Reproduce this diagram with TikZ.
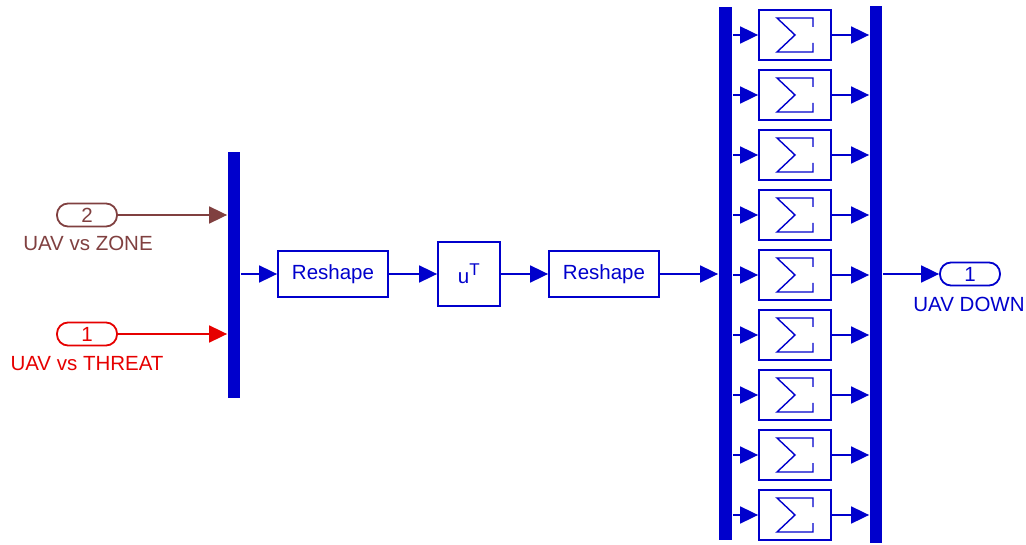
\documentclass[tikz,border=0pt]{standalone}
\usepackage{fontspec}
\setmainfont{Liberation Sans}
\usetikzlibrary{arrows.meta}
\definecolor{simblue}{RGB}{0,0,204}
\definecolor{zonebrown}{RGB}{128,64,64}
\definecolor{threatred}{RGB}{230,0,0}
\begin{document}
\begin{tikzpicture}[x=1pt,y=-1pt,
  font=\fontsize{20.5}{24}\selectfont,
  line width=1.8pt,
  sig/.style={-{Triangle[length=18pt,width=17pt]}},
  blk/.style={draw=simblue,text=simblue,minimum width=#1,inner sep=0pt},
  bar/.style={fill=simblue,draw=none,minimum width=12pt,inner sep=0pt},
  port/.style={draw,rounded corners=11pt,minimum width=60pt,minimum height=23pt,inner sep=0pt},
  lbl/.style={inner sep=0pt}]
\useasboundingbox (0,0) rectangle (1026,545);

% inports
\node[port,draw=zonebrown,text=zonebrown] (p2) at (87,215) {2};
\node[lbl,text=zonebrown,anchor=north] (l2) at (88,235) {UAV vs ZONE};
\node[port,draw=threatred,text=threatred] (p1) at (87,334) {1};
\node[lbl,text=threatred,anchor=north] (l1) at (87,355) {UAV vs THREAT};

% mux
\node[bar,minimum height=246pt] (mux) at (234,275) {};

% chain of blocks
\node[blk=110pt,minimum height=46pt] (rs1) at (333,274) {Reshape};
\node[blk=62pt,minimum height=64pt] (tr) at (469,274) {u\textsuperscript{\fontsize{17}{20}\selectfont T}};
\node[blk=110pt,minimum height=46pt] (rs2) at (604,274) {Reshape};

% demux and concatenation bars
\node[bar,minimum width=13pt,minimum height=533pt] (dmx) at (725.5,273.5) {};
\node[bar,minimum height=537pt] (cat) at (876,274.5) {};

% outport
\node[port,draw=simblue,text=simblue] (o1) at (970,274) {1};
\node[lbl,text=simblue,anchor=north] (lo) at (969,296) {UAV DOWN};

% connections
\draw[sig,zonebrown] (p2.east) -- (p2.east -| mux.west);
\draw[sig,threatred] (p1.east) -- (p1.east -| mux.west);
\draw[sig,simblue] (rs1.west -| mux.east) -- (rs1.west);
\draw[sig,simblue] (rs1.east) -- (tr.west);
\draw[sig,simblue] (tr.east) -- (tr.east -| rs2.west);
\draw[sig,simblue] (rs2.east) -- (rs2.east -| dmx.west);
\draw[sig,simblue] (o1.west -| cat.east) -- (o1.west);

% sum blocks
\foreach \i in {0,...,8}{
  \pgfmathsetmacro{\yy}{35+60*\i}
  \node[blk=72pt,minimum height=50pt] (s\i) at (795,\yy) {};
  \draw[simblue,line width=1.4pt]
    ([shift={(18,-8)}]s\i.center) -- ++(0,-9) -- ++(-36,0) -- ++(18,17)
    -- ++(-18,17) -- ++(36,0) -- ++(0,-9);
  \draw[sig,simblue] (s\i.west -| dmx.east) -- (s\i.west);
  \draw[sig,simblue] (s\i.east) -- (s\i.east -| cat.west);
}
\end{tikzpicture}
\end{document}
